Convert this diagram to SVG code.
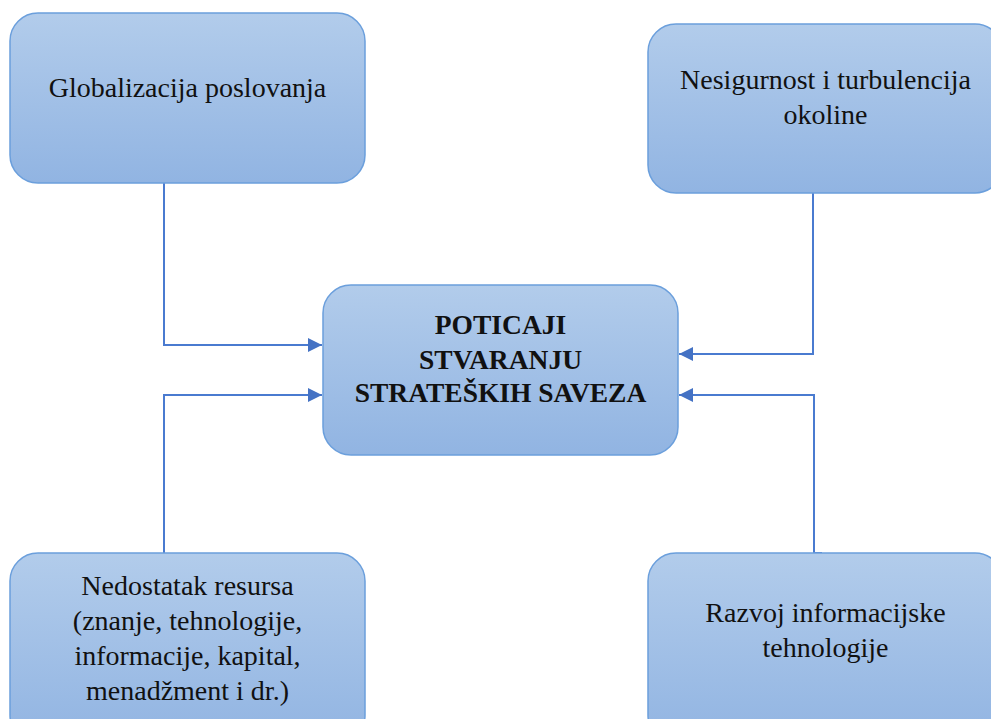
<svg xmlns="http://www.w3.org/2000/svg" width="991" height="719" viewBox="0 0 991 719">
  <defs>
    <linearGradient id="g" x1="0" y1="0" x2="0" y2="1">
      <stop offset="0" stop-color="#b2cceb"/>
      <stop offset="1" stop-color="#91b4e2"/>
    </linearGradient>
    <marker id="arr" viewBox="0 0 10 10" refX="10" refY="5" markerWidth="7" markerHeight="7" orient="auto" markerUnits="strokeWidth">
      <path d="M0,0 L10,5 L0,10 z" fill="#4472c4"/>
    </marker>
    <style>
      .box { fill: url(#g); stroke: #6b9fdc; stroke-width: 1.5; }
      .t { font-family: "Liberation Serif", "Times New Roman", serif; font-size: 28px; fill: #111; text-anchor: middle; }
      .b { font-weight: bold; font-size: 27.5px; }
      .c { fill: none; stroke: #4a7bd0; stroke-width: 2; }
    </style>
  </defs>
  <rect width="991" height="719" fill="#ffffff"/>

  <g id="connectors">
    <path class="c" d="M164,183 V345 H322" marker-end="url(#arr)"/>
    <path class="c" d="M164,553 V395 H322" marker-end="url(#arr)"/>
    <path class="c" d="M947,192 H813 V354 H679" marker-end="url(#arr)"/>
    <path class="c" d="M822,553 H814 V395 H679" marker-end="url(#arr)"/>
  </g>

  <g id="node-globalizacija">
    <rect class="box" x="10" y="13" width="355" height="170" rx="28" ry="28"/>
    <text class="t" x="187.5" y="97">Globalizacija poslovanja</text>
  </g>

  <g id="node-nesigurnost">
    <rect class="box" x="648" y="24" width="355" height="169" rx="28" ry="28"/>
    <text class="t" x="825.5" y="89">Nesigurnost i turbulencija</text>
    <text class="t" x="825.5" y="124">okoline</text>
  </g>

  <g id="node-poticaji">
    <rect class="box" x="323" y="285" width="355" height="170" rx="28" ry="28"/>
    <text class="t b" x="500.5" y="334">POTICAJI</text>
    <text class="t b" x="500.5" y="369">STVARANJU</text>
    <text class="t b" x="500.5" y="402">STRATEŠKIH SAVEZA</text>
  </g>

  <g id="node-nedostatak">
    <rect class="box" x="10" y="553" width="355" height="190" rx="28" ry="28"/>
    <text class="t" x="187.5" y="595">Nedostatak resursa</text>
    <text class="t" x="187.5" y="630">(znanje, tehnologije,</text>
    <text class="t" x="187.5" y="665">informacije, kapital,</text>
    <text class="t" x="187.5" y="700">menadžment i dr.)</text>
  </g>

  <g id="node-razvoj">
    <rect class="box" x="648" y="553" width="355" height="190" rx="28" ry="28"/>
    <text class="t" x="825.5" y="622">Razvoj informacijske</text>
    <text class="t" x="825.5" y="657">tehnologije</text>
  </g>
</svg>
